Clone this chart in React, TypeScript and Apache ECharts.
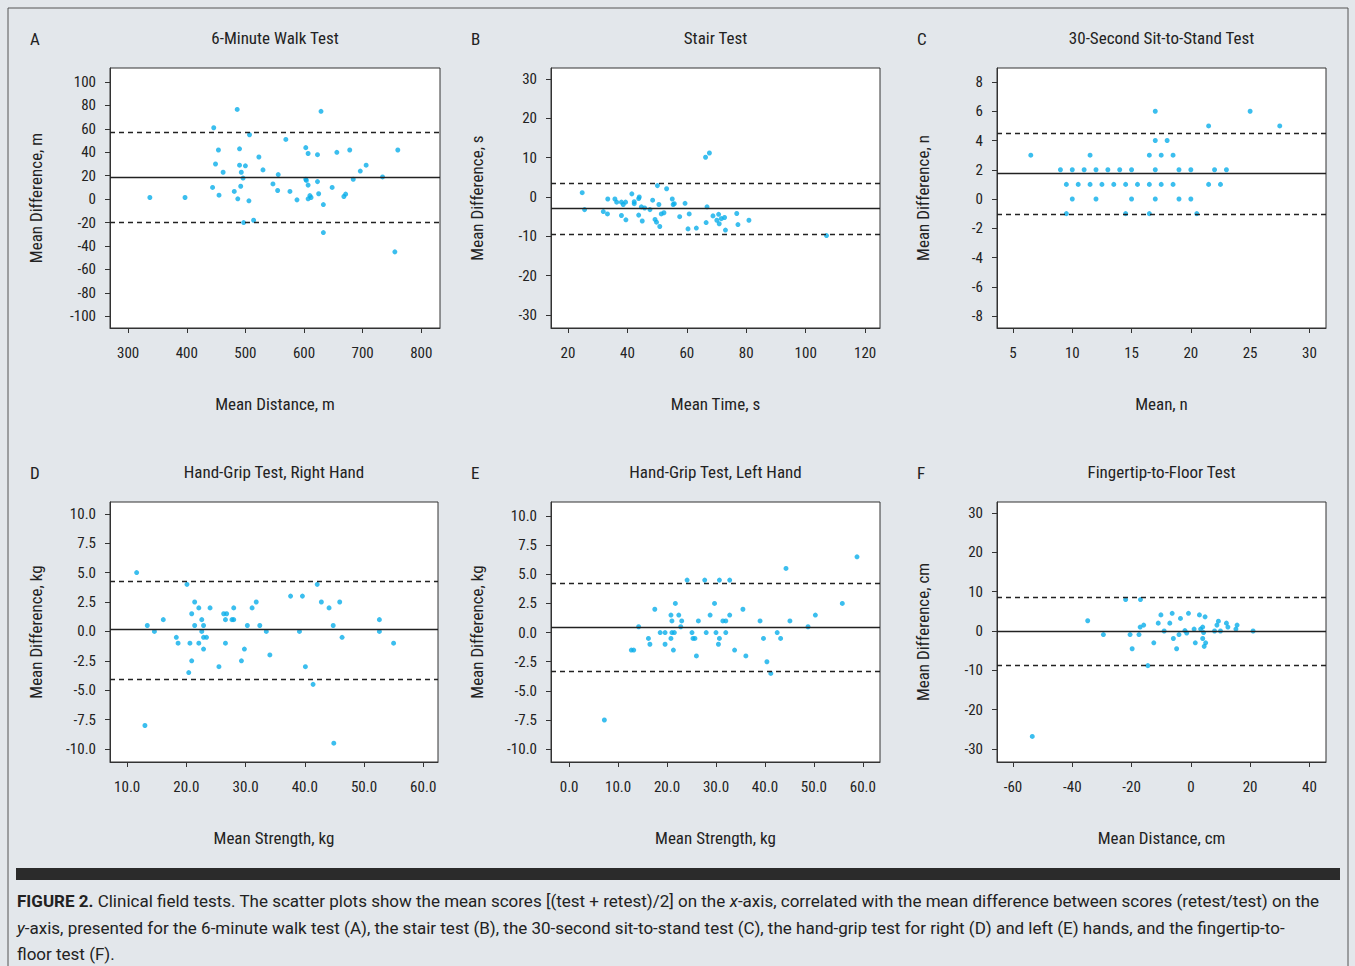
import * as echarts from "echarts";
import { useEffect, useRef } from "react";

// [mean, difference] pairs
const walkPoints = [
  [337, 1.4], [397, 1.4], [446, 61], [486, 76.6], [629, 75], [507, 55], [569, 51], [454, 42], [490, 43],
  [603, 44], [607, 39], [623, 38], [656, 40], [678, 42], [760, 42], [523, 36], [449, 30], [490, 29],
  [500, 28.5], [706, 29], [696, 24], [462, 23], [493, 23], [530, 25], [556, 21], [496, 18], [603, 17],
  [604, 16], [684, 17], [734, 19], [547, 13], [607, 12], [623, 15], [444, 10], [648, 10], [492, 11],
  [455, 3.4], [481, 6.6], [555, 7.4], [576, 6.6], [668, 2.3], [671, 4.3], [487, 0.3], [506, -1.4],
  [588, -0.6], [607, 0.3], [610, 3.1], [612, 1.4], [625, 4.6], [633, -4.6], [497, -20], [514, -18],
  [633, -28.5], [755, -45],
];
const stairPoints = [
  [24.8, 1.1], [25.6, -3.2], [66.3, 10.1], [67.6, 11.2], [50.1, 2.9], [53.2, 2.1], [41.5, 0.8], [33.4, -0.5],
  [35.8, -0.5], [36.4, -1.3], [38.0, -1.3], [38.6, -1.9], [39.4, -1.3], [42.3, -1.2], [42.3, -1.7], [43.8, -0.4],
  [44.0, 0], [48.5, -0.8], [50.6, -1.9], [55.1, -0.5], [55.8, -1.7], [55.4, -1.9], [59.4, -1.6], [66.8, -2.5],
  [44.7, -2.5], [45.8, -2.8], [47.6, -3.2], [31.9, -3.7], [33.3, -4.3], [38.0, -4.7], [39.5, -5.8], [43.8, -4.6],
  [45.0, -6.1], [49.3, -5.7], [49.8, -6.4], [50.9, -7.5], [51.4, -4.3], [52.3, -4.0], [57.6, -5.0], [60.8, -4.3],
  [60.4, -8.1], [63.2, -7.9], [66.5, -6.5], [68.8, -4.8], [70.1, -5.9], [70.7, -4.4], [70.9, -6.8], [71.6, -5.5],
  [72.7, -5.2], [73.0, -8.4], [76.8, -4.2], [77.2, -7.0], [80.9, -5.9], [107, -9.8],
];
const sitStandPoints = [
  [17, 6], [25, 6], [21.5, 5], [27.5, 5], [17, 4], [18, 4],
  [6.5, 3], [11.5, 3], [16.5, 3], [17.5, 3], [18.5, 3],
  [9, 2], [10, 2], [11, 2], [12, 2], [13, 2], [14, 2], [15, 2], [17, 2], [19, 2], [20, 2], [22, 2], [23, 2],
  [9.5, 1], [10.5, 1], [11.5, 1], [12.5, 1], [13.5, 1], [14.5, 1], [15.5, 1], [16.5, 1], [17.5, 1], [18.5, 1],
  [21.5, 1], [22.5, 1],
  [10, 0], [12, 0], [15, 0], [17, 0], [19, 0], [20, 0],
  [9.5, -1], [14.5, -1], [16.5, -1], [20.5, -1],
];
const gripRightPoints = [
  [11.6, 5.0], [13.4, 0.5], [14.6, 0], [16.1, 1.0], [13.0, -8.0], [18.3, -0.5], [18.6, -1.0], [20.1, 4.0],
  [20.9, 1.5], [21.4, 2.5], [21.4, 0.5], [22.1, 2.0], [22.6, 1.0], [22.6, 0], [22.9, 0.5], [22.9, -0.5],
  [23.4, -0.5], [24.0, 2.0], [20.6, -1.0], [22.1, -1.0], [22.9, -1.5], [20.9, -2.5], [20.4, -3.5], [25.5, -3.0],
  [26.3, 1.5], [26.8, 1.5], [26.6, 1.0], [27.7, 1.0], [28.0, 1.0], [28.0, 2.0], [26.6, -1.0], [29.3, -2.5],
  [29.8, -1.5], [30.3, 0.5], [31.1, 2.0], [31.8, 2.5], [32.4, 0.5], [33.5, 0], [34.1, -2.0], [37.6, 3.0],
  [39.6, 3.0], [39.1, 0], [40.1, -3.0], [41.4, -4.5], [42.1, 4.0], [42.8, 2.5], [44.1, 2.0], [44.8, 0.5],
  [45.9, 2.5], [46.3, -0.5], [44.9, -9.5], [52.6, 1.0], [52.6, 0], [55.0, -1.0],
];
const gripLeftPoints = [
  [7.2, -7.5], [12.7, -1.5], [13.2, -1.5], [14.2, 0.5], [16.2, -0.5], [16.5, -1.0], [17.5, 2.0], [18.6, 0],
  [19.6, 0], [19.6, -1.0], [20.8, -0.5], [20.8, 1.5], [21.0, 1.0], [21.0, 0], [21.3, -1.5], [21.5, 0],
  [21.7, 2.5], [22.4, 1.5], [22.8, 0.5], [23.0, 1.0], [24.1, 4.5], [25.1, 0], [25.3, -0.5], [25.7, -0.5],
  [26.0, -2.0], [26.4, 1.0], [27.7, 4.5], [28.0, 0], [28.8, 1.5], [29.7, 2.5], [30.0, 0], [30.5, -1.0],
  [30.7, -0.5], [30.7, 4.5], [31.4, 1.0], [32.0, 1.0], [32.0, 0], [32.8, 1.5], [32.8, 4.5], [33.8, -1.5],
  [35.5, 2.0], [36.1, -2.0], [39.0, 1.0], [39.7, -0.5], [40.4, -2.5], [41.2, -3.5], [42.5, 0], [43.2, -0.5],
  [44.3, 5.5], [45.1, 1.0], [48.8, 0.5], [50.3, 1.5], [55.8, 2.5], [58.8, 6.5],
];
const fingertipPoints = [
  [-53.5, -26.8], [-34.8, 2.6], [-29.5, -0.9], [-22.0, 8.0], [-17.0, 8.0], [-20.5, -0.9], [-19.8, -4.5],
  [-17.5, -0.9], [-17.1, 1.0], [-15.9, 1.5], [-14.5, -8.8], [-12.5, -3.0], [-11.0, 2.0], [-10.1, 4.1],
  [-9.0, 0], [-7.1, 2.0], [-6.3, 4.5], [-5.9, -1.9], [-4.8, -4.5], [-4.0, -0.9], [-3.5, 3.2], [-2.0, 0.1],
  [-1.4, -0.5], [-0.8, 4.5], [1.1, 0.5], [1.5, -3.0], [2.9, 4.1], [3.3, 0.5], [4.0, 1.0], [4.0, -1.9],
  [4.3, -0.4], [4.5, -3.9], [4.8, 3.6], [5.0, -3.0], [8.0, 0], [8.8, 1.5], [9.3, 2.5], [10.0, 0],
  [12.0, 2.0], [12.5, 1.0], [15.2, 0.5], [15.6, 1.5], [21.0, 0],
];

// mean difference, upper and lower limits of agreement
const walkLines = [19, 57.5, -19.4];
const stairLines = [-2.9, 3.5, -9.4];
const sitStandLines = [1.73, 4.5, -1.07];
const gripRightLines = [0.18, 4.3, -4.1];
const gripLeftLines = [0.48, 4.27, -3.33];
const fingertipLines = [0, 8.6, -8.8];

const walkXTicks = [300, 400, 500, 600, 700, 800];
const walkYTicks = [100, 80, 60, 40, 20, 0, -20, -40, -60, -80, -100];
const stairXTicks = [20, 40, 60, 80, 100, 120];
const stairYTicks = [30, 20, 10, 0, -10, -20, -30];
const sitStandXTicks = [5, 10, 15, 20, 25, 30];
const sitStandYTicks = [8, 6, 4, 2, 0, -2, -4, -6, -8];
const gripRightXTicks = [10, 20, 30, 40, 50, 60];
const gripLeftXTicks = [0, 10, 20, 30, 40, 50, 60];
const gripYTicks = [10, 7.5, 5, 2.5, 0, -2.5, -5, -7.5, -10];
const fingertipXTicks = [-60, -40, -20, 0, 20, 40];
const fingertipYTicks = [30, 20, 10, 0, -10, -20, -30];

const FONT = "'Liberation Sans Narrow', 'Roboto Condensed', 'DejaVu Sans Condensed', sans-serif";
const CAPTION_FONT = "Roboto, 'Liberation Sans', sans-serif";
const DOT = "#0aaeea";

const panels = [
  {
    letter: "A", title: "6-Minute Walk Test", xName: "Mean Distance, m", yName: "Mean Difference, m",
    box: [110, 68, 440, 328], x: [269, 832], y: [-110, 112], xTicks: walkXTicks, yTicks: walkYTicks,
    points: walkPoints, lines: walkLines, fmt: (v: number) => String(v),
  },
  {
    letter: "B", title: "Stair Test", xName: "Mean Time, s", yName: "Mean Difference, s",
    box: [551, 68, 880, 328], x: [14.3, 125], y: [-33.3, 32.8], xTicks: stairXTicks, yTicks: stairYTicks,
    points: stairPoints, lines: stairLines, fmt: (v: number) => String(v),
  },
  {
    letter: "C", title: "30-Second Sit-to-Stand Test", xName: "Mean, n", yName: "Mean Difference, n",
    box: [997, 68, 1326, 328], x: [3.65, 31.4], y: [-8.82, 8.96], xTicks: sitStandXTicks, yTicks: sitStandYTicks,
    points: sitStandPoints, lines: sitStandLines, fmt: (v: number) => String(v),
  },
  {
    letter: "D", title: "Hand-Grip Test, Right Hand", xName: "Mean Strength, kg", yName: "Mean Difference, kg",
    box: [110, 502, 438, 762], x: [7.1, 62.5], y: [-11.1, 11.0], xTicks: gripRightXTicks, yTicks: gripYTicks,
    points: gripRightPoints, lines: gripRightLines, fmt: (v: number) => v.toFixed(1),
  },
  {
    letter: "E", title: "Hand-Grip Test, Left Hand", xName: "Mean Strength, kg", yName: "Mean Difference, kg",
    box: [551, 502, 880, 762], x: [-3.7, 63.5], y: [-11.1, 11.2], xTicks: gripLeftXTicks, yTicks: gripYTicks,
    points: gripLeftPoints, lines: gripLeftLines, fmt: (v: number) => v.toFixed(1),
  },
  {
    letter: "F", title: "Fingertip-to-Floor Test", xName: "Mean Distance, cm", yName: "Mean Difference, cm",
    box: [997, 502, 1326, 762], x: [-65.4, 45.6], y: [-33.3, 32.8], xTicks: fingertipXTicks, yTicks: fingertipYTicks,
    points: fingertipPoints, lines: fingertipLines, fmt: (v: number) => String(v),
  },
];

const captionLines = [
  "{b|FIGURE 2.} Clinical field tests. The scatter plots show the mean scores [(test + retest)/2] on the {i|x}-axis, correlated with the mean difference between scores (retest/test) on the",
  "{i|y}-axis, presented for the 6-minute walk test (A), the stair test (B), the 30-second sit-to-stand test (C), the hand-grip test for right (D) and left (E) hands, and the fingertip-to-",
  "floor test (F).",
];

function buildOption(): echarts.EChartsCoreOption {
  const axisText = { color: "#222", fontSize: 15, fontFamily: FONT };
  const grid = panels.map((p) => ({
    left: p.box[0], top: p.box[1], width: p.box[2] - p.box[0], height: p.box[3] - p.box[1],
    show: true, backgroundColor: "#fff", borderColor: "#333", borderWidth: 1,
  }));
  const xAxis = panels.map((p, i) => ({
    type: "value", gridIndex: i, min: p.x[0], max: p.x[1],
    splitLine: { show: false },
    axisLine: { show: true, onZero: false, lineStyle: { color: "#333" } },
    axisTick: { show: true, length: 5, customValues: p.xTicks, lineStyle: { color: "#333" } },
    axisLabel: { ...axisText, margin: 17, customValues: p.xTicks, formatter: p.fmt },
  }));
  const yAxis = panels.map((p, i) => ({
    type: "value", gridIndex: i, min: p.y[0], max: p.y[1],
    splitLine: { show: false },
    axisLine: { show: true, onZero: false, lineStyle: { color: "#333" } },
    axisTick: { show: true, length: 5, customValues: p.yTicks, lineStyle: { color: "#333" } },
    axisLabel: { ...axisText, margin: 14, customValues: p.yTicks, formatter: p.fmt },
  }));
  const series = panels.map((p, i) => ({
    type: "scatter", xAxisIndex: i, yAxisIndex: i, data: p.points, symbolSize: 5,
    itemStyle: { color: DOT }, silent: true,
    markLine: {
      silent: true, symbol: "none", label: { show: false },
      data: [
        { yAxis: p.lines[0], lineStyle: { color: "#222", width: 1.3, type: "solid" } },
        { yAxis: p.lines[1], lineStyle: { color: "#222", width: 1.3, type: [5, 4] } },
        { yAxis: p.lines[2], lineStyle: { color: "#222", width: 1.3, type: [5, 4] } },
      ],
    },
  }));
  const texts: any[] = [];
  panels.forEach((p) => {
    const [l, t, r, b] = p.box;
    const cx = (l + r) / 2;
    const cy = (t + b) / 2;
    const titleFont = { fontSize: 17, fontFamily: FONT, fill: "#222" };
    texts.push({ type: "text", left: l - 80, top: t - 38, style: { text: p.letter, ...titleFont } });
    texts.push({ type: "text", x: cx, y: t - 30, style: { text: p.title, align: "center", verticalAlign: "middle", ...titleFont } });
    texts.push({ type: "text", x: cx, y: b + 76, style: { text: p.xName, align: "center", verticalAlign: "middle", ...titleFont } });
    texts.push({ type: "text", x: l - 74, y: cy, rotation: Math.PI / 2, style: { text: p.yName, align: "center", verticalAlign: "middle", ...titleFont } });
  });
  return {
    animation: false,
    backgroundColor: "#e3e7eb",
    grid, xAxis, yAxis, series,
    graphic: [
      { type: "rect", shape: { x: 8, y: 8, width: 1340, height: 960 }, style: { fill: "none", stroke: "#555", lineWidth: 1 } },
      { type: "rect", shape: { x: 16, y: 868, width: 1324, height: 12 }, style: { fill: "#2b2b2b" } },
      ...texts,
      {
        type: "text", x: 17, y: 888,
        style: {
          text: captionLines.join("\n"), fontSize: 17, lineHeight: 26.5, fontFamily: CAPTION_FONT, fill: "#222",
          rich: {
            b: { fontWeight: "bold", fontSize: 17, fontFamily: CAPTION_FONT, fill: "#222" },
            i: { fontStyle: "italic", fontSize: 17, fontFamily: CAPTION_FONT, fill: "#222" },
          },
        },
      },
    ],
  };
}

export default function App() {
  const ref = useRef<HTMLDivElement | null>(null);
  useEffect(() => {
    if (!ref.current) {
      return;
    }
    const chart = echarts.init(ref.current, undefined, { renderer: "svg" });
    chart.setOption(buildOption());
    return () => chart.dispose();
  }, []);
  return <div ref={ref} style={{ position: "absolute", left: 0, top: 0, width: 1355, height: 966 }} />;
}
